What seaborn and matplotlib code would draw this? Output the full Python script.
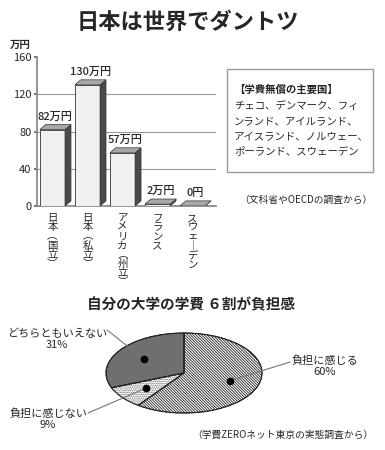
import numpy as np
import matplotlib.pyplot as plt
import seaborn as sns
from matplotlib.patches import Polygon, Rectangle

# data
countries = ['日本(国立)', '日本(私立)', 'アメリカ(州立)', 'フランス', 'スウェーデン']
fees = [82, 130, 57, 2, 0]
fee_labels = ['82万円', '130万円', '57万円', '2万円', '0円']
yticks = [0, 40, 80, 120, 160]

free_title = '【学費無償の主要国】'
free_countries = ['チェコ、デンマーク、フィ', 'ンランド、アイルランド、',
                  'アイスランド、ノルウェー、', 'ポーランド、スウェーデン']

burden_labels = ['負担に感じる', '負担に感じない', 'どちらともいえない']
burden_pct = [60, 9, 31]

sns.set_theme(style='white')
plt.rcParams['font.family'] = ['Noto Sans CJK JP', 'DejaVu Sans']
plt.rcParams['hatch.linewidth'] = 0.6

W, H = 385, 450
def fx(x):
    return x / W
def fy(y):
    return 1 - y / H

def vertical(s):
    s = s.replace('(', '︵').replace(')', '︶').replace('ー', '｜')
    return '\n'.join(s)

fig = plt.figure(figsize=(W / 100, H / 100), dpi=100)
fig.patch.set_facecolor('white')

fig.text(fx(188), fy(22), '日本は世界でダントツ', ha='center', va='center',
         fontsize=16, fontweight='bold')

# ---- bar chart ----
ax = fig.add_axes([fx(37), fy(206), fx(216) - fx(37), fy(57) - fy(206)])
ax.set_facecolor('none')
for t in yticks[1:-1]:
    ax.axhline(t, color='#9a9a9a', lw=0.8, zorder=0)

sns.barplot(x=countries, y=fees, color='#f0f0f0', edgecolor='#333333',
            linewidth=0.6, width=0.72, saturation=1, ax=ax, zorder=3)

dx, dy = 0.17, 5.5
for p, lab in zip(ax.patches, fee_labels):
    x0, w, h = p.get_x(), p.get_width(), p.get_height()
    side = Polygon([(x0 + w, 0), (x0 + w + dx, dy), (x0 + w + dx, h + dy), (x0 + w, h)],
                   closed=True, facecolor='#4a4a4a', edgecolor='#333333', lw=0.5, zorder=3)
    top = Polygon([(x0, h), (x0 + dx, h + dy), (x0 + w + dx, h + dy), (x0 + w, h)],
                  closed=True, facecolor='#a8a8a8', edgecolor='#333333', lw=0.5, zorder=3)
    ax.add_patch(side)
    ax.add_patch(top)
    ax.annotate(lab, (x0 + w / 2 + dx / 2, h + dy), xytext=(0, 2),
                textcoords='offset points', ha='center', va='bottom', fontsize=8,
                fontweight='medium')

ax.set_ylim(0, 160)
ax.set_xlim(-0.44, 4.67)
ax.set_yticks(yticks)
ax.set_yticklabels([str(t) for t in yticks], fontsize=8)
ax.set_xticks(range(len(countries)))
ax.set_xticklabels([vertical(c) for c in countries], fontsize=7.5, va='top',
                   linespacing=0.9)
ax.tick_params(axis='y', length=2, pad=2, color='#666666', left=True)
ax.tick_params(axis='x', length=0, pad=5)
ax.set_xlabel('')
ax.set_ylabel('')
sns.despine(ax=ax)
ax.spines['left'].set_color('#888888')
ax.spines['bottom'].set_color('#888888')
fig.text(fx(20), fy(45), '万円', ha='center', va='center', fontsize=7.5, fontweight='bold')

# box with countries without fees
fig.patches.append(Rectangle((fx(227), fy(172)), fx(373) - fx(227), fy(69) - fy(172),
                             transform=fig.transFigure, facecolor='white',
                             edgecolor='#999999', lw=1))
fig.text(fx(234), fy(90), free_title, ha='left', va='center', fontsize=7.5, fontweight='bold')
for i, line in enumerate(free_countries):
    fig.text(fx(234), fy(106 + i * 15), line, ha='left', va='center', fontsize=7.5)
fig.text(fx(373), fy(200), '（文科省やOECDの調査から）', ha='right', va='center', fontsize=7)

# ---- pie ----
fig.text(fx(191), fy(304), '自分の大学の学費 ６割が負担感', ha='center', va='center',
         fontsize=10.5, fontweight='bold')

ax2 = fig.add_axes([fx(106), fy(413), fx(262) - fx(106), fy(333) - fy(413)])
wedges, _ = ax2.pie(burden_pct, startangle=90, counterclock=False,
                    colors=['white', 'white', '#6f6f6f'],
                    wedgeprops=dict(edgecolor='#222222', linewidth=0.7))
wedges[0].set_hatch('\\' * 12)
wedges[1].set_hatch('.' * 9)
wedges[1].set_edgecolor('#666666')
ax2.pie(burden_pct, startangle=90, counterclock=False,
        wedgeprops=dict(fill=False, edgecolor='#222222', linewidth=0.7))
ax2.set_aspect('auto')
ax2.set_xlim(-1, 1)
ax2.set_ylim(-1, 1)

label_xy = [(325, 366), (48, 419), (57, 339)]
line_end = [(290, 362), (88, 413), (107, 330)]
for w, lab, pct, (lx, ly), (ex, ey) in zip(wedges, burden_labels, burden_pct, label_xy, line_end):
    mid = np.deg2rad((w.theta1 + w.theta2) / 2)
    px, py = 0.62 * np.cos(mid), 0.62 * np.sin(mid)
    ax2.annotate('', xy=(px, py), xytext=(fx(ex), fy(ey)), textcoords='figure fraction',
                 arrowprops=dict(arrowstyle='-', color='#777777', lw=0.8,
                                 shrinkA=0, shrinkB=0), annotation_clip=False)
    ax2.plot(px, py, 'o', color='black', ms=4.5, zorder=5)
    fig.text(fx(lx), fy(ly), f'{lab}\n{pct}%', ha='center', va='center',
             fontsize=8, linespacing=1.1)

fig.text(fx(373), fy(435), '（学費ZEROネット東京の実態調査から）', ha='right', va='center',
         fontsize=7)

fig.savefig('out.png', dpi=100)
